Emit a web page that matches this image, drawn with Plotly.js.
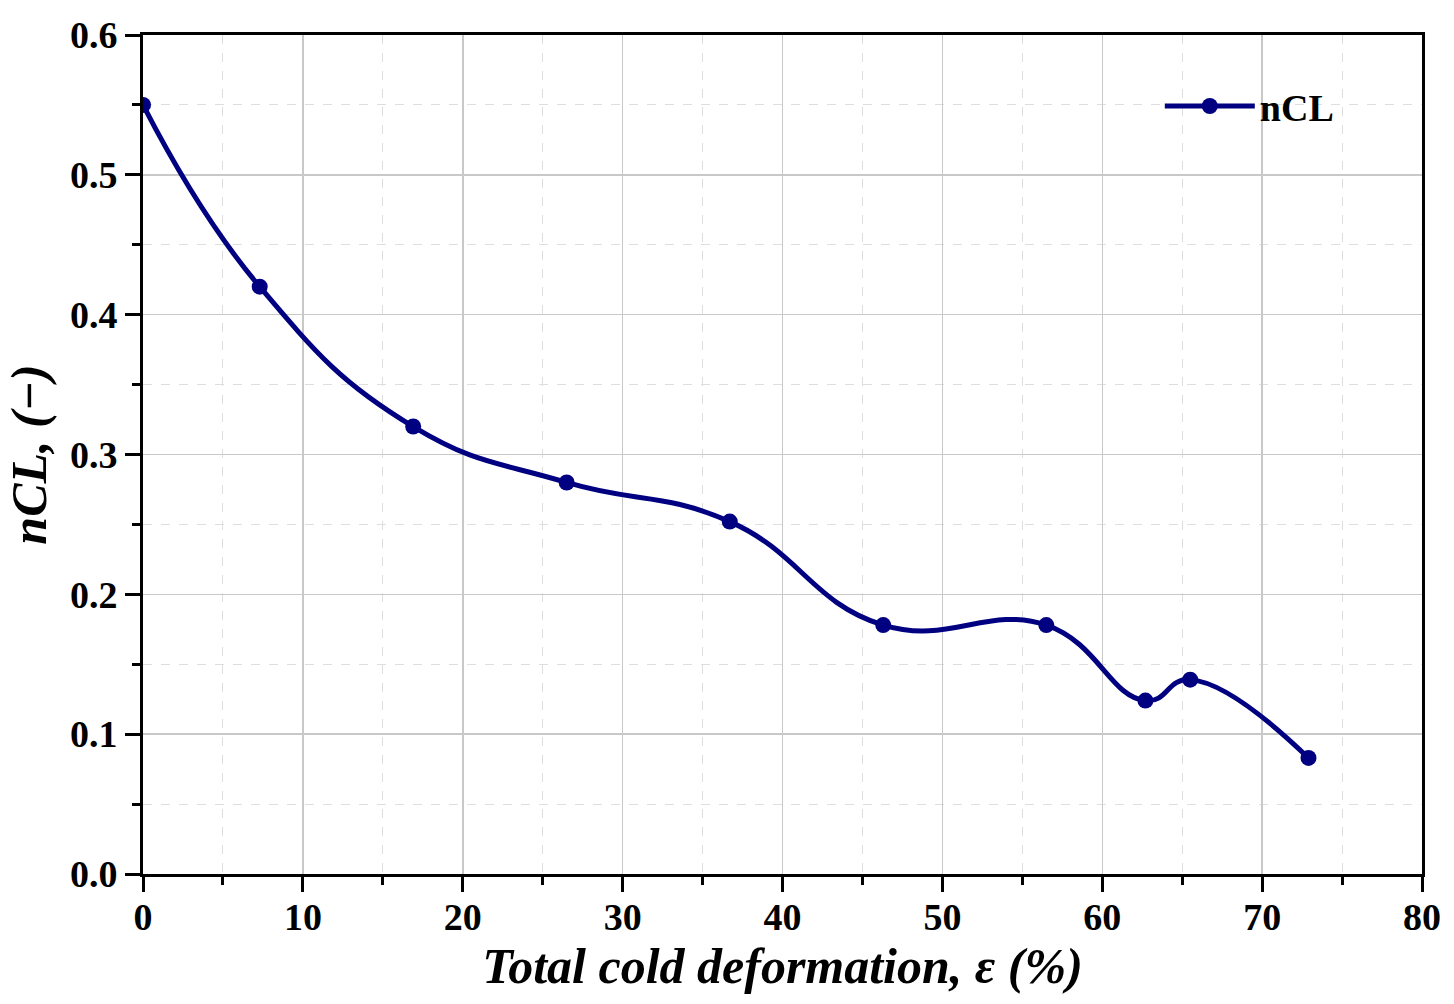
<!DOCTYPE html>
<html>
<head>
<meta charset="utf-8">
<script src="https://cdn.plot.ly/plotly-3.0.1.min.js"></script>
<style>
  html, body { margin: 0; padding: 0; background: #fff; }
  #chart { width: 1454px; height: 1004px; }
</style>
</head>
<body>
<div id="chart"></div>
<script>
const deformation = [0, 7.3, 16.9, 26.5, 36.7, 46.3, 56.5, 62.7, 65.5, 72.9];
const nCL = [0.55, 0.42, 0.32, 0.28, 0.252, 0.178, 0.178, 0.124, 0.139, 0.083];
const seriesName = 'nCL';

const serif = 'Liberation Serif, Times New Roman, serif';

const trace = {
  x: deformation,
  y: nCL,
  name: seriesName,
  type: 'scatter',
  mode: 'lines+markers',
  line: { color: '#000080', width: 5, shape: 'spline', smoothing: 1.3 },
  marker: { color: '#000080', size: 16 },
};

const axisCommon = {
  showline: true,
  linecolor: 'black',
  linewidth: 3,
  mirror: true,
  ticks: 'outside',
  ticklen: 15,
  tickwidth: 3,
  tickcolor: 'black',
  showgrid: true,
  gridcolor: '#c8c8c8',
  gridwidth: 1.5,
  zeroline: false,
  tickfont: { family: serif, size: 38, color: 'black', weight: 'bold' },
};

const layout = {
  width: 1454,
  height: 1004,
  margin: { l: 143, r: 32, t: 35, b: 130 },
  paper_bgcolor: 'white',
  plot_bgcolor: 'white',
  showlegend: true,
  legend: {
    x: 0.795,
    y: 0.915,
    xanchor: 'left',
    yanchor: 'middle',
    bgcolor: 'rgba(0,0,0,0)',
    itemwidth: 90,
    font: { family: serif, size: 38, color: 'black', weight: 'bold' },
  },
  xaxis: {
    ...axisCommon,
    range: [0, 80],
    dtick: 10,
    ticklabelstandoff: -8,
    minor: {
      dtick: 5,
      ticks: 'outside',
      ticklen: 8,
      tickwidth: 3,
      tickcolor: 'black',
      showgrid: true,
      gridcolor: '#dedede',
      griddash: 'dash',
      gridwidth: 1,
    },
    title: {
      text: '<b><i>Total cold deformation, ε (%)</i></b>',
      font: { family: serif, size: 50, color: 'black' },
      standoff: 6,
    },
  },
  yaxis: {
    ...axisCommon,
    range: [0, 0.6],
    dtick: 0.1,
    tickformat: '.1f',
    minor: {
      dtick: 0.05,
      ticks: 'outside',
      ticklen: 8,
      tickwidth: 3,
      tickcolor: 'black',
      showgrid: true,
      gridcolor: '#dedede',
      griddash: 'dash',
      gridwidth: 1,
    },
    title: {
      text: '<b><i>nCL, (−)</i></b>',
      font: { family: serif, size: 50, color: 'black' },
      standoff: 8,
    },
  },
};

const config = { displayModeBar: false, staticPlot: true };

Plotly.newPlot('chart', [trace], layout, config);
</script>
</body>
</html>
